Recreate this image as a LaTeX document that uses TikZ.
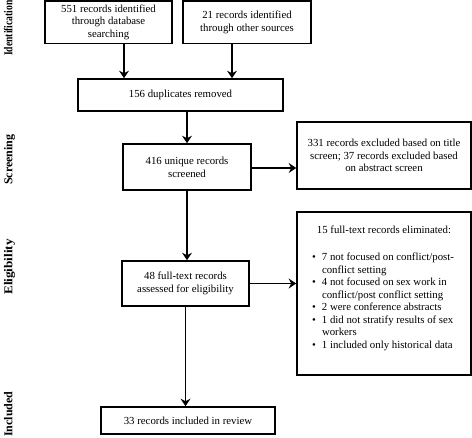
\documentclass[tikz,border=0pt]{standalone}
\usepackage{fontspec}
\setmainfont{Liberation Serif}
\usetikzlibrary{arrows.meta}
\begin{document}
\begin{tikzpicture}[x=1pt,y=-1pt,
  box/.style={draw=black, line width=1.6pt, inner sep=0pt, align=center,
    font=\fontsize{10.8}{12.8}\selectfont},
  arr/.style={line width=1.6pt, -{Stealth[length=7.5pt,width=10pt,inset=2.5pt]}},
  lab/.style={rotate=90, inner sep=0pt, font=\fontsize{12}{14}\selectfont\bfseries}]
\useasboundingbox (0,0) rectangle (472,438);
% phase labels
\node[lab, anchor=base west] (lid) at (12.5,56) {\scalebox{0.8}[1]{Identification}};
\node[lab, anchor=base west] (lsc) at (12.5,185) {Screening};
\node[lab, anchor=base west] (lel) at (12.5,295) {\scalebox{1.1}[1]{Eligibility}};
\node[lab, anchor=base west] (lin) at (12.5,437) {Included};
% boxes
\node[box, minimum width=127pt, minimum height=42.5pt] (b1) at (108.5,22.2)
  {551 records identified\\through database\\searching};
\node[box, minimum width=128pt, minimum height=42.5pt] (b2) at (247,22.2)
  {21 records identified\\through other sources};
\node[box, minimum width=205pt, minimum height=32pt] (b3) at (180.5,95)
  {156 duplicates removed};
\node[box, minimum width=128pt, minimum height=46pt] (b4) at (187,167)
  {416 unique records\\screened};
\node[box, minimum width=174pt, minimum height=67pt] (b5) at (384,155.5)
  {331 records excluded based on title\\screen; 37 records excluded based\\on abstract screen};
\node[box, minimum width=174pt, minimum height=163pt, align=left,
      font=\fontsize{10.8}{12.5}\selectfont] (b6) at (384,293.5)
  {\makebox[144pt][c]{15 full-text records eliminated:}\\[14.5pt]
   \makebox[10pt][l]{\textbullet}7 not focused on conflict/post-\\
   \hspace*{10pt}conflict setting\\
   \makebox[10pt][l]{\textbullet}4 not focused on sex work in\\
   \hspace*{10pt}conflict/post conflict setting\\
   \makebox[10pt][l]{\textbullet}2 were conference abstracts\\
   \makebox[10pt][l]{\textbullet}1 did not stratify results of sex\\
   \hspace*{10pt}workers\\
   \makebox[10pt][l]{\textbullet}1 included only historical data\\
   \mbox{}};
\node[box, minimum width=127pt, minimum height=45pt] (b7) at (185.5,283.5)
  {48 full-text records\\assessed for eligibility};
\node[box, minimum width=174pt, minimum height=27pt] (b8) at (188,420.5)
  {33 records included in review};
% connectors
\draw[arr] ([xshift=15.5pt]b1.south) -- ([xshift=15.5pt]b1.south |- b3.north);
\draw[arr] ([xshift=-15pt]b2.south) -- ([xshift=-15pt]b2.south |- b3.north);
\draw[arr] (b4.north |- b3.south) -- (b4.north);
\draw[arr] ([yshift=-1pt]b4.east) -- ([yshift=-1pt]b4.east -| b5.west);
\draw[arr] (b4.south) -- (b4.south |- b7.north);
\draw[arr] (b7.east) -- (b7.east -| b6.west);
\draw[arr] (b7.south) -- (b7.south |- b8.north);
\end{tikzpicture}
\end{document}
